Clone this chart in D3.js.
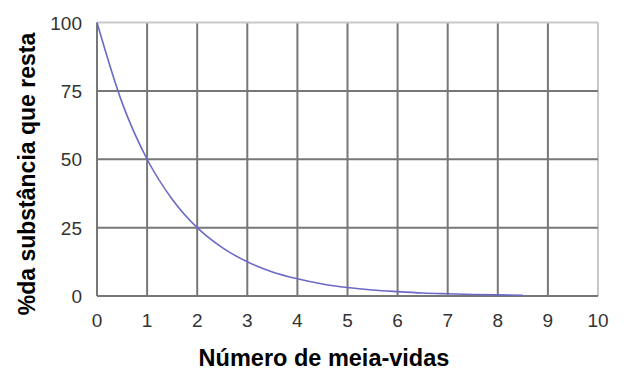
<!DOCTYPE html>
<html>
<head>
<meta charset="utf-8">
<script src="https://cdn.jsdelivr.net/npm/d3@7"></script>
<style>
body { margin: 0; background: #fff; }
text { font-family: "Liberation Sans", Arial, sans-serif; }
</style>
</head>
<body>
<script>
// half-lives vs remaining percent
var meiaVidas = [0, 0.5, 1, 1.5, 2, 2.5, 3, 3.5, 4, 4.5, 5, 5.5, 6, 6.5, 7, 7.5, 8, 8.5];
var restante = [100, 70.7, 50, 35.4, 25, 17.7, 12.5, 8.8, 6.3, 4.4, 3.1, 2.2, 1.6, 1.1, 0.8, 0.55, 0.4, 0.3];
var xTicks = [0, 1, 2, 3, 4, 5, 6, 7, 8, 9, 10];
var yTicks = [0, 25, 50, 75, 100];

var svg = d3.select("body").append("svg")
    .attr("width", 630)
    .attr("height", 384);

var x = d3.scaleLinear().domain([0, 10]).range([97, 598]);
var y = d3.scaleLinear().domain([0, 100]).range([296, 22.5]);

// grid
svg.selectAll("line.vgrid")
    .data(xTicks)
    .enter().append("line")
    .attr("x1", d => x(d)).attr("x2", d => x(d))
    .attr("y1", y(100)).attr("y2", y(0))
    .attr("stroke", d => d == 10 ? "#c8c8c8" : "#777")
    .attr("stroke-width", 2);

svg.selectAll("line.hgrid")
    .data(yTicks)
    .enter().append("line")
    .attr("x1", x(0)).attr("x2", x(10))
    .attr("y1", d => y(d)).attr("y2", d => y(d))
    .attr("stroke", d => d == 100 ? "#c8c8c8" : "#777")
    .attr("stroke-width", 2);

// curve
var line = d3.line()
    .x((d, i) => x(meiaVidas[i]))
    .y(d => y(d))
    .curve(d3.curveMonotoneX);

svg.append("path")
    .datum(restante)
    .attr("d", line)
    .attr("fill", "none")
    .attr("stroke", "#6a6ac6")
    .attr("stroke-width", 1.6);

// tick labels
svg.selectAll("text.xt")
    .data(xTicks)
    .enter().append("text")
    .attr("x", d => x(d))
    .attr("y", 327)
    .attr("text-anchor", "middle")
    .attr("font-size", 19)
    .attr("fill", "#333")
    .text(d => d);

svg.selectAll("text.yt")
    .data(yTicks)
    .enter().append("text")
    .attr("x", 82)
    .attr("y", d => y(d) + 7)
    .attr("text-anchor", "end")
    .attr("font-size", 19)
    .attr("fill", "#333")
    .text(d => d);

// axis titles
svg.append("text")
    .attr("x", 324)
    .attr("y", 366)
    .attr("text-anchor", "middle")
    .attr("font-size", 23.5)
    .attr("font-weight", "bold")
    .attr("fill", "#000")
    .text("Número de meia-vidas");

svg.append("text")
    .attr("transform", "translate(35,174) rotate(-90)")
    .attr("text-anchor", "middle")
    .attr("font-size", 23)
    .attr("font-weight", "bold")
    .attr("fill", "#000")
    .text("%da substância que resta");
</script>
</body>
</html>
